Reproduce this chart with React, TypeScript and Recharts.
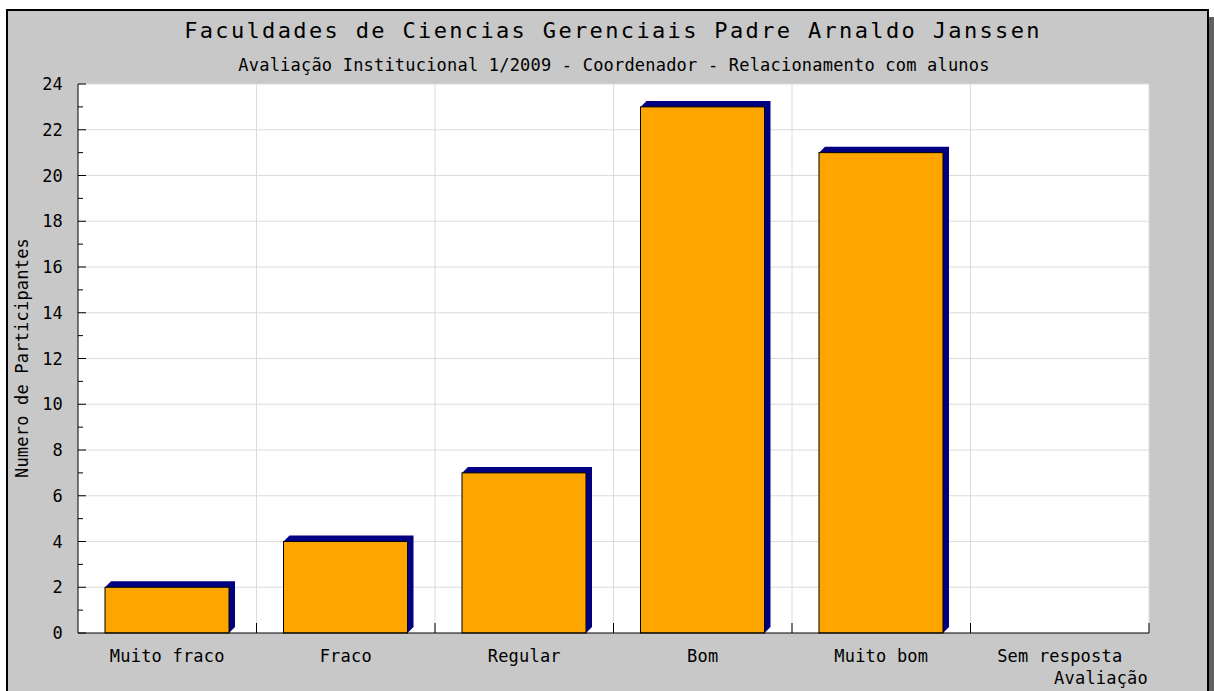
import { BarChart, Bar, XAxis, YAxis, CartesianGrid } from 'recharts'

const categories = ['Muito fraco', 'Fraco', 'Regular', 'Bom', 'Muito bom', 'Sem resposta']
const participantes = [2, 4, 7, 23, 21, 0]
const yTicks = [0, 1, 2, 3, 4, 5, 6, 7, 8, 9, 10, 11, 12, 13, 14, 15, 16, 17, 18, 19, 20, 21, 22, 23, 24]
const yGrid = [2, 4, 6, 8, 10, 12, 14, 16, 18, 20, 22, 24]

const data = categories.map((c, i) => ({ name: c, value: participantes[i] }))

const FONT = '"DejaVu Sans Mono", monospace'
const DEPTH = 6

function Bar3D(props: any) {
  const { x, y, width, height } = props
  if (!height || height <= 0) return null
  const d = DEPTH
  const pts = [
    [x, y],
    [x + d, y - d],
    [x + width + d, y - d],
    [x + width + d, y + height - d],
    [x + width, y + height],
  ]
    .map((p) => p.join(','))
    .join(' ')
  return (
    <g>
      <polygon points={pts} fill="#000080" />
      <rect x={x} y={y} width={width} height={height} fill="#ffa500" stroke="#000" strokeWidth={1} />
    </g>
  )
}

function YTick(props: any) {
  const { x, y, payload } = props
  const major = payload.value % 2 === 0
  return (
    <g>
      <line x1={x} x2={x + (major ? 8 : 5)} y1={y} y2={y} stroke="#000" />
      {major && (
        <text x={x - 15} y={y + 6} textAnchor="end" fontFamily={FONT} fontSize={17} letterSpacing={0.2} fill="#000">
          {payload.value}
        </text>
      )}
    </g>
  )
}

function XTick(props: any) {
  const { x, y, payload } = props
  const half = 1071 / 12
  return (
    <g>
      <line x1={x + half} x2={x + half} y1={y} y2={y - 10} stroke="#000" />
      <text x={x} y={y + 29} textAnchor="middle" fontFamily={FONT} fontSize={17} letterSpacing={0.2} fill="#000">
        {payload.value}
      </text>
    </g>
  )
}

export default function App() {
  return (
    <div style={{ position: 'absolute', left: 0, top: 0, width: 1214, height: 691, background: '#fff', overflow: 'hidden' }}>
      <div style={{ position: 'absolute', left: 1209, top: 17, width: 5, height: 700, background: '#606060' }} />
      <div
        style={{
          position: 'absolute',
          left: 6,
          top: 9,
          width: 1203,
          height: 720,
          background: '#c8c8c8',
          border: '2px solid #000',
          boxSizing: 'border-box',
        }}
      />
      <div style={{ position: 'absolute', left: 0, top: 0 }}>
        <BarChart width={1214} height={691} data={data} margin={{ top: 84, right: 65, bottom: 28, left: 18 }}>
          <CartesianGrid
            fill="#fff"
            stroke="#dcdcdc"
            horizontalValues={yGrid}
            verticalCoordinatesGenerator={({ offset }: any) =>
              [1, 2, 3, 4, 5, 6].map((i) => offset.left + (i * offset.width) / 6)
            }
          />
          <XAxis
            dataKey="name"
            height={30}
            tickSize={0}
            tickMargin={0}
            tickLine={false}
            axisLine={{ stroke: '#000' }}
            tick={<XTick />}
            interval={0}
          />
          <YAxis
            width={60}
            domain={[0, 24]}
            ticks={yTicks}
            interval={0}
            tickSize={0}
            tickMargin={0}
            tickLine={false}
            axisLine={{ stroke: '#000' }}
            tick={<YTick />}
          />
          <Bar dataKey="value" barSize={124} shape={<Bar3D />} isAnimationActive={false} />
        </BarChart>
      </div>
      <svg width={1214} height={691} style={{ position: 'absolute', left: 0, top: 0, pointerEvents: 'none' }}>
        <text x={613} y={38} textAnchor="middle" fontFamily={FONT} fontSize={22} letterSpacing={2.35} fill="#000">
          Faculdades de Ciencias Gerenciais Padre Arnaldo Janssen
        </text>
        <text x={614} y={71} textAnchor="middle" fontFamily={FONT} fontSize={17} letterSpacing={0.2} fill="#000">
          Avaliação Institucional 1/2009 - Coordenador - Relacionamento com alunos
        </text>
        <text
          x={28}
          y={358}
          transform="rotate(-90 28 358)"
          textAnchor="middle"
          fontFamily={FONT}
          fontSize={17}
          letterSpacing={0.2}
          fill="#000"
        >
          Numero de Participantes
        </text>
        <text x={1148} y={684} textAnchor="end" fontFamily={FONT} fontSize={17} letterSpacing={0.2} fill="#000">
          Avaliação
        </text>
      </svg>
    </div>
  )
}
